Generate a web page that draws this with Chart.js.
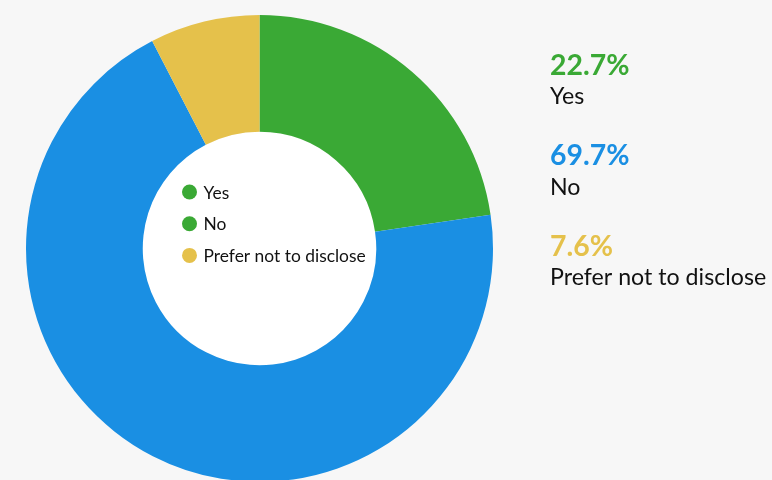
<!DOCTYPE html>
<html>
<head>
<meta charset="utf-8">
<script src="https://cdn.jsdelivr.net/npm/chart.js@4/dist/chart.umd.min.js"></script>
<style>
  html, body { margin: 0; padding: 0; background: #f7f7f7; overflow: hidden; }
  #wrap { position: relative; width: 772px; height: 500px; }
</style>
</head>
<body>
<div id="wrap"><canvas id="c" width="772" height="500"></canvas></div>
<script>
// Survey answers and their shares (percent)
const categories = ["Yes", "No", "Prefer not to disclose"];
const shares = [22.7, 69.7, 7.6];
const sliceColors = ["#3aa935", "#1a8fe3", "#e5c14b"];
const legendDotColors = ["#3aa935", "#3aa935", "#e5c14b"];
const shareLabels = ["22.7%", "69.7%", "7.6%"];

const FONT = "Lato, 'Open Sans', sans-serif";

// White hole plus the in-hole legend
const centerLegend = {
  id: "centerLegend",
  beforeDatasetsDraw(chart) {
    const arc = chart.getDatasetMeta(0).data[0];
    if (!arc) return;
    const ctx = chart.ctx;
    ctx.save();
    ctx.fillStyle = "#ffffff";
    ctx.beginPath();
    ctx.arc(arc.x, arc.y, arc.innerRadius, 0, Math.PI * 2);
    ctx.fill();
    ctx.restore();
  },
  afterDatasetsDraw(chart) {
    const arc = chart.getDatasetMeta(0).data[0];
    if (!arc) return;
    const ctx = chart.ctx;
    ctx.save();
    ctx.font = "17.4px " + FONT;
    ctx.textBaseline = "middle";
    const x0 = arc.x - 70, y0 = arc.y - 56.5, step = 31.7;
    categories.forEach((name, i) => {
      const y = y0 + i * step;
      ctx.fillStyle = legendDotColors[i];
      ctx.beginPath();
      ctx.arc(x0, y, 7.5, 0, Math.PI * 2);
      ctx.fill();
      ctx.fillStyle = "#111111";
      ctx.fillText(name, x0 + 14, y + 1);
    });
    ctx.restore();
  }
};

// Percentage blocks on the right
const sideLabels = {
  id: "sideLabels",
  afterDraw(chart) {
    const ctx = chart.ctx;
    ctx.save();
    ctx.textBaseline = "alphabetic";
    const x = 550;
    categories.forEach((name, i) => {
      const yb = 74.5 + i * 90.5;
      ctx.font = "bold 28.4px " + FONT;
      ctx.fillStyle = sliceColors[i];
      ctx.fillText(shareLabels[i], x, yb);
      ctx.font = "23.2px " + FONT;
      ctx.fillStyle = "#111111";
      ctx.fillText(name, x, yb + 29.5);
    });
    ctx.restore();
  }
};

new Chart(document.getElementById("c"), {
  type: "doughnut",
  data: {
    labels: categories,
    datasets: [{
      data: shares,
      backgroundColor: sliceColors,
      borderWidth: 0,
      hoverOffset: 0
    }]
  },
  options: {
    responsive: false,
    animation: false,
    cutout: "50%",
    layout: { padding: { left: 26, top: 15, right: 279, bottom: 18 } },
    plugins: {
      legend: { display: false },
      tooltip: { enabled: false }
    }
  },
  plugins: [centerLegend, sideLabels]
});
</script>
</body>
</html>
